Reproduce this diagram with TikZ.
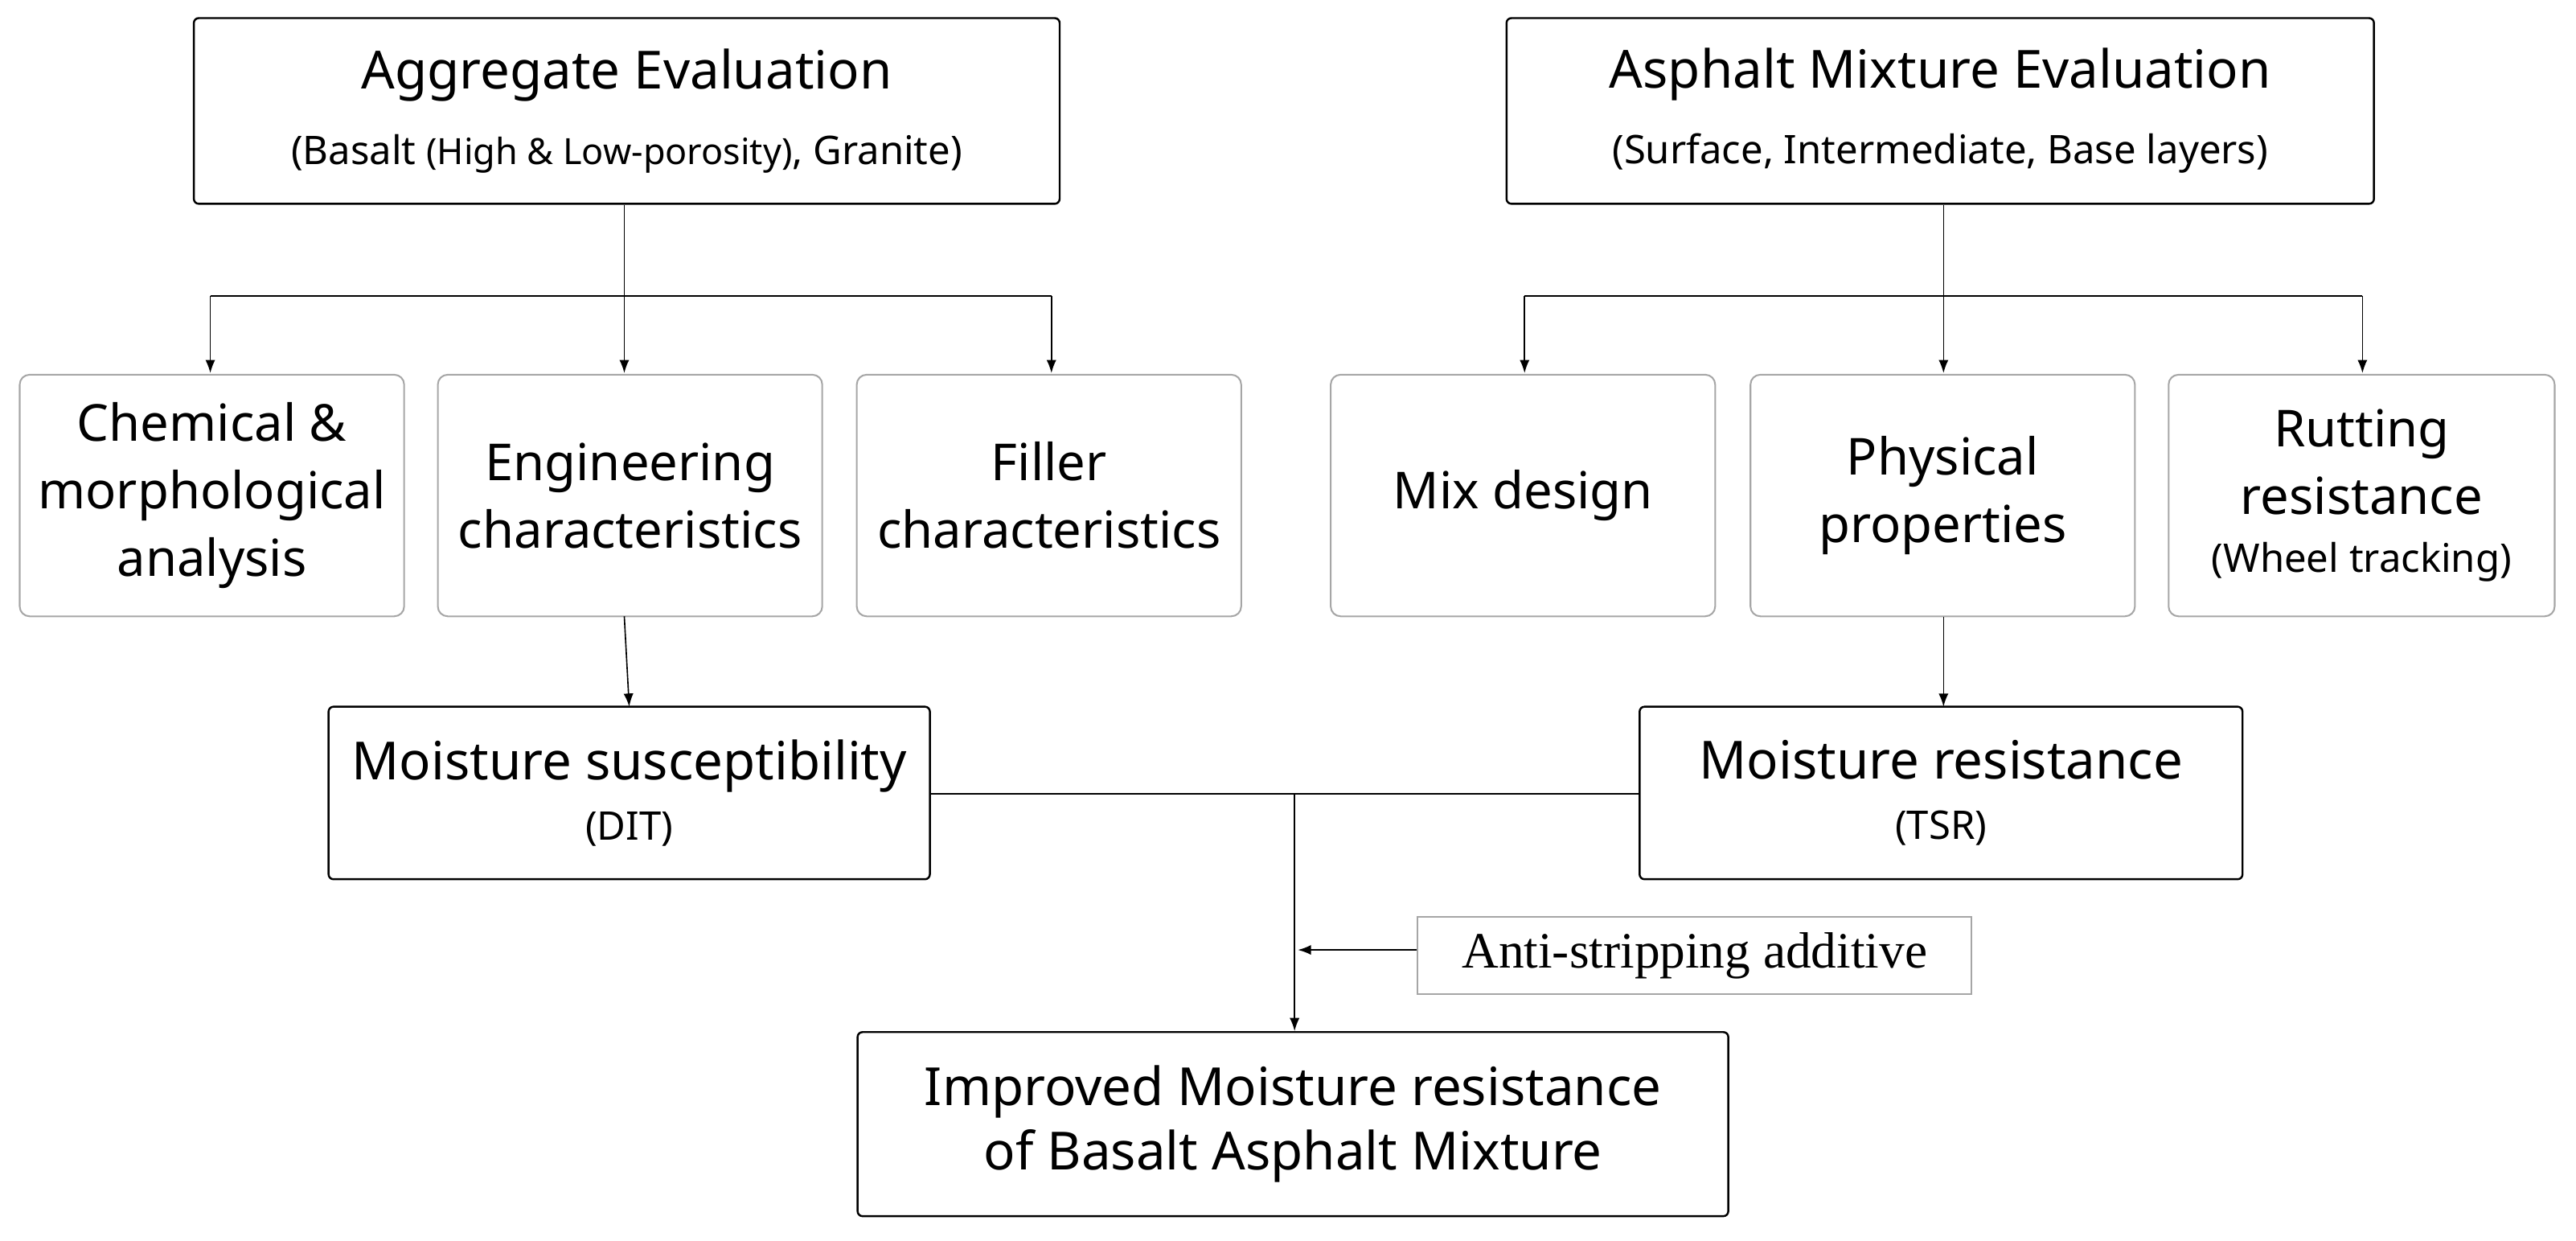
\documentclass[tikz,border=0pt]{standalone}
\usepackage{fontspec}
\setmainfont{Noto Sans}
\newfontfamily\serifA{Liberation Serif}
\usetikzlibrary{arrows.meta}
\begin{document}
\begin{tikzpicture}[x=1pt,y=-1pt,
  main/.style={draw=black,line width=1.2pt,rounded corners=3pt,inner sep=0pt,align=center},
  sub/.style={draw=black!35,line width=1pt,rounded corners=6pt,inner sep=0pt,align=center,font=\fontsize{31}{41}\selectfont},
  ln/.style={line width=0.8pt},
  arr/.style={ln,-{Latex[length=8pt,width=6pt]}}]
\useasboundingbox (0,0) rectangle (1568,755);
\node[main,minimum width=527pt,minimum height=113pt,font=\fontsize{32}{46}\selectfont] (A) at (381.5,67.5)
 {Aggregate Evaluation\\{\fontsize{24}{28}\selectfont(Basalt {\fontsize{22}{26}\selectfont(High \& Low-porosity)}, Granite)}};
\node[main,minimum width=528pt,minimum height=113pt,font=\fontsize{32}{46}\selectfont] (B) at (1181,67.5)
 {Asphalt Mixture Evaluation\\{\fontsize{24}{28}\selectfont(Surface, Intermediate, Base layers)}};
\foreach \n/\x/\t in {c1/129/{Chemical \&\\morphological\\analysis},c2/383.5/{Engineering\\characteristics},c3/638.5/{Filler\\characteristics},c4/927/{Mix design},c5/1182.5/{Physical\\properties}}
 \node[sub,minimum width=234pt,minimum height=147pt] (\n) at (\x,301.5) {\t};
\node[sub,minimum width=235pt,minimum height=147pt] (c6) at (1437.5,301.5) {Rutting\\resistance\\[-6pt]{\fontsize{24}{28}\selectfont(Wheel tracking)}};
\node[main,minimum width=366pt,minimum height=105pt,font=\fontsize{32}{37}\selectfont] (M1) at (383,482.5)
 {Moisture susceptibility\\{\fontsize{24}{28}\selectfont(DIT)}};
\node[main,minimum width=367pt,minimum height=105pt,font=\fontsize{32}{37}\selectfont] (M2) at (1181.5,482.5)
 {Moisture resistance\\{\fontsize{24}{28}\selectfont(TSR)}};
\node[draw=black!35,line width=1pt,minimum width=337pt,minimum height=47pt,inner sep=0pt,font=\serifA\fontsize{31}{36}\selectfont] (S) at (1031.5,581.5) {Anti-stripping additive};
\node[main,minimum width=530pt,minimum height=112pt,font=\fontsize{32}{39}\selectfont] (F) at (787,684)
 {Improved Moisture resistance\\of Basalt Asphalt Mixture};
% left tree
\coordinate (ja) at (380,180);
\draw[ln] (A.south -| ja) -- (ja);
\draw[ln] (128,180) -- (640,180);
\draw[arr] (128,180) -- (128,227);
\draw[arr] (ja) -- (380,227);
\draw[arr] (640,180) -- (640,227);
% right tree
\coordinate (jb) at (1183,180);
\draw[ln] (B.south -| jb) -- (jb);
\draw[ln] (928,180) -- (1438,180);
\draw[arr] (928,180) -- (928,227);
\draw[arr] (jb) -- (1183,227);
\draw[arr] (1438,180) -- (1438,227);
% to moisture boxes
\draw[arr] (380,375) -- (383,430);
\draw[arr] (c5.south -| 1183,0) -- (1183,430);
% merge
\coordinate (jm) at (788,483);
\draw[ln] (M1.east |- jm) -- (M2.west |- jm);
\draw[arr] (jm) -- (F.north -| jm);
\draw[arr] (S.west |- 0,578) -- (790,578);
\end{tikzpicture}
\end{document}
